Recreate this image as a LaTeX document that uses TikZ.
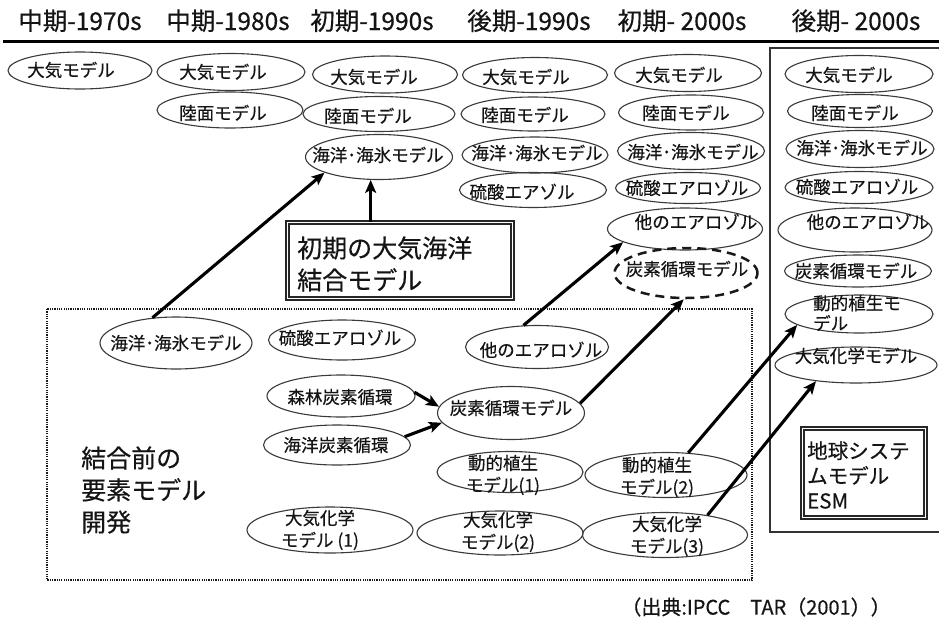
\documentclass[tikz,border=0pt]{standalone}
\usepackage{fontspec}
\setmainfont{Noto Sans CJK JP}[FakeBold=0.45]
\usetikzlibrary{arrows.meta,shapes.geometric}
\definecolor{elc}{HTML}{3A3A3A}
\definecolor{txc}{HTML}{141414}
\newcommand{\el}[7]{%
  \node[ell, minimum width=#4, minimum height=#5] (#1) at (#2,#3) {};
  \node[etxt] (#1t) at #6 {#7};}
\newcommand{\eltwo}[7]{%
  \node[ell, minimum width=#4, minimum height=#5] (#1) at (#2,#3) {};
  \node[etxttwo] (#1t) at #6 {#7};}
\begin{document}
\begin{tikzpicture}[x=1pt,y=-1pt,
  ell/.style={ellipse, draw=elc, line width=1.1pt, inner sep=0pt},
  etxt/.style={font=\fontsize{17.5}{20}\selectfont, inner sep=0pt, text=txc, text height=15.4pt, text depth=2.1pt},
  etxttwo/.style={font=\fontsize{17.5}{22}\selectfont, inner sep=0pt, text=txc, align=center},
  arr/.style={-{Stealth[length=13pt,width=11pt,inset=3pt]}, line width=3.1pt, draw=black},
  hdr/.style={font=\fontsize{24.5}{28}\selectfont, anchor=base, inner sep=0pt, text=txc},
  dblbox/.style={rectangle, draw=black!85, line width=1.8pt, double=white, double distance=1.8pt, inner sep=0pt},
  bigtxt/.style={font=\fontsize{25}{32}\selectfont, align=left, anchor=west, inner sep=0pt, text=txc},
  dotbox/.style={line width=2.6pt, dash pattern=on 1.2pt off 1.1pt, draw=black!90},
]
\useasboundingbox (0,0) rectangle (939,624);
\fill[white] (0,0) rectangle (939,624);

% header
\node[hdr] (h1) at (80,30) {中期-1970s};
\node[hdr] (h2) at (228,30) {中期-1980s};
\node[hdr] (h3) at (372,30) {初期-1990s};
\node[hdr] (h4) at (529,30) {後期-1990s};
\node[hdr] (h5) at (682,30) {初期- 2000s};
\node[hdr] (h6) at (856,30) {後期- 2000s};
\draw[line width=3.4pt] (3,41.5) -- (939,41.5);

% right frame
\draw[line width=1.5pt, draw=black!80] (939,48) -- (770,48) -- (770,532) -- (939,532);

% row 1
\el{a1}{80}{70.5}{144}{37}{(71,70)}{大気モデル}
\el{a2}{231}{72}{148}{37}{(223,72)}{大気モデル}
\el{a3}{385}{74.5}{145}{37}{(374,77)}{大気モデル}
\el{a4}{535}{75}{145}{35}{(526,77)}{大気モデル}
\el{a5}{688}{73}{147}{37}{(679,75)}{大気モデル}
\el{a6}{859}{74}{148}{37}{(849,75)}{大気モデル}
% row 2
\el{l2}{230}{110}{146}{36}{(223,113)}{陸面モデル}
\el{l3}{379}{114}{152}{35}{(368,116)}{陸面モデル}
\el{l4}{533}{114}{144}{34}{(525,115)}{陸面モデル}
\el{l5}{691}{112.5}{145}{35}{(686,113)}{陸面モデル}
\el{l6}{860}{111}{145}{33}{(855,113)}{陸面モデル}
% row 3
\el{o3}{379}{157}{147}{45}{(378,155)}{海洋･海氷モデル}
\el{o4}{535}{155}{146}{36}{(537,153)}{海洋･海氷モデル}
\el{o5}{691}{151}{147}{37}{(693,152)}{海洋･海氷モデル}
\el{o6}{860}{149}{148}{37}{(862,148)}{海洋･海氷モデル}
% row 4
\el{s4}{533}{190}{147}{35}{(522,192)}{硫酸エアゾル}
\el{s5}{688}{188}{145}{31}{(687,188)}{硫酸エアロゾル}
\el{s6}{859}{187.5}{148}{32}{(857,187)}{硫酸エアロゾル}
% row 5
\el{x5}{685}{229}{155}{42}{(696,222)}{他のエアロゾル}
\el{x6}{855}{230}{154}{44}{(868,222)}{他のエアロゾル}
% row 6
\node[ell, line width=2.5pt, draw=black!90, dash pattern=on 9pt off 6pt, minimum width=143, minimum height=50] (c5) at (686,273) {};
\node[etxt] (c5t) at (687,269) {炭素循環モデル};
\el{c6}{858}{271}{147}{32}{(856,271)}{炭素循環モデル}
% row 7, 8 (right column)
\node[ell, minimum width=148, minimum height=38] (v6) at (859,314) {};
\node[etxttwo, align=left, anchor=west, font=\fontsize{17.5}{20}\selectfont] (v6t) at (813,313) {動的植生モ\\デル};
\el{m6}{856}{365}{162}{36}{(856,356)}{大気化学モデル}

% coupled model box
\node[dblbox, minimum width=225, minimum height=76] (cbox) at (400,260.5) {};
\node[bigtxt] (cboxt) at (297,264) {初期の大気海洋\\結合モデル};

% dotted box of components
\draw[dotbox] (47,309) rectangle (752,580);
\el{io}{176}{343}{152}{52}{(176,343)}{海洋･海氷モデル}
\el{is}{342}{340}{147}{40}{(340,338)}{硫酸エアロゾル}
\el{ix}{537}{347}{143}{43}{(541,350)}{他のエアロゾル}
\el{if}{341}{396}{148}{42}{(340,397)}{森林炭素循環}
\el{ic}{337}{445}{147}{40}{(336,445)}{海洋炭素循環}
\el{im}{511}{413}{147}{53}{(511,408)}{炭素循環モデル}
\eltwo{iv1}{510}{472}{146}{41}{(503,475)}{動的植生\\モデル(1)}
\eltwo{iv2}{666}{475}{162}{45}{(657,477)}{動的植生\\モデル(2)}
\eltwo{ich1}{330}{530}{166}{46}{(320,530)}{大気化学\\モデル (1)}
\eltwo{ich2}{500}{533}{166}{44}{(498,532)}{大気化学\\モデル(2)}
\eltwo{ich3}{665}{535}{165}{45}{(667,536)}{大気化学\\モデル(3)}
\node[bigtxt] (pre) at (81,490) {結合前の\\要素モデル\\開発};

% ESM box
\node[dblbox, minimum width=123, minimum height=89] (esm) at (864,473) {};
\node[bigtxt, font=\fontsize{20.5}{25}\selectfont] (esmt) at (807,475) {地球システ\\ムモデル\\ESM};

% source
\node[font=\fontsize{20}{24}\selectfont, inner sep=0pt, text=txc] (src) at (756,607) {（出典:IPCC　TAR（2001））};

% arrows
\draw[arr] (io.133) -- (o3.196);
\draw[arr] (cbox.north -| o3.250) -- (o3.250);
\draw[arr] (ix.122) -- (x5.192);
\draw[arr] (im.8) -- (c5.265);
\draw[arr] (if.3) -- (im.175);
\draw[arr] (ic.7) -- (im.188);
\draw[arr] (iv2.45) -- (v6.190);
\draw[arr] (ich3.25) -- (m6.202);
\end{tikzpicture}
\end{document}
